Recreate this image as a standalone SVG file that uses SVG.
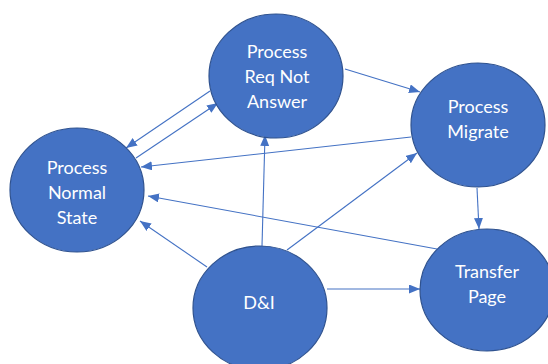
<svg xmlns="http://www.w3.org/2000/svg" width="548" height="364" viewBox="0 0 548 364">
<style>
.n{fill:#4472C4;stroke:#2F528F;stroke-width:1.2}
.t{fill:#fff;font-family:Lato,"Open Sans","Liberation Sans",sans-serif;font-size:18px;text-anchor:middle}
.c{stroke:#4472C4;stroke-width:1.1;fill:none;marker-end:url(#a)}
</style>
<defs>
<marker id="a" markerUnits="userSpaceOnUse" markerWidth="12" markerHeight="10" refX="11" refY="4.5" orient="auto">
<path d="M0,0 L11,4.5 L0,9 z" fill="#4472C4"/>
</marker>
</defs>
<rect width="548" height="364" fill="#fff"/>
<g id="connectors">
<line class="c" x1="210" y1="91" x2="126" y2="148"/>
<line class="c" x1="136" y1="158" x2="218" y2="103"/>
<line class="c" x1="411" y1="137" x2="141" y2="167"/>
<line class="c" x1="345" y1="69" x2="420" y2="92"/>
<line class="c" x1="262" y1="246" x2="265" y2="135"/>
<line class="c" x1="287" y1="250" x2="417" y2="153"/>
<line class="c" x1="207" y1="267" x2="140" y2="221"/>
<line class="c" x1="327" y1="289" x2="420" y2="289"/>
<line class="c" x1="477" y1="188" x2="479" y2="229"/>
<line class="c" x1="437" y1="249" x2="148" y2="196"/>
</g>
<g id="req">
<ellipse class="n" cx="276" cy="76" rx="67" ry="62"/>
<text class="t" x="277" y="58">Process</text>
<text class="t" x="277" y="83">Req Not</text>
<text class="t" x="277" y="108">Answer</text>
</g>
<g id="migrate">
<ellipse class="n" cx="478" cy="125" rx="67" ry="62"/>
<text class="t" x="478" y="113">Process</text>
<text class="t" x="478" y="138">Migrate</text>
</g>
<g id="normal">
<ellipse class="n" cx="77" cy="190" rx="67" ry="62"/>
<text class="t" x="77" y="174">Process</text>
<text class="t" x="77" y="199">Normal</text>
<text class="t" x="77" y="224">State</text>
</g>
<g id="di">
<ellipse class="n" cx="260" cy="308" rx="67" ry="62"/>
<text class="t" x="259" y="309">D&amp;I</text>
</g>
<g id="transfer">
<ellipse class="n" cx="487" cy="290" rx="67" ry="61"/>
<text class="t" x="487" y="278">Transfer</text>
<text class="t" x="487" y="303">Page</text>
</g>
</svg>
